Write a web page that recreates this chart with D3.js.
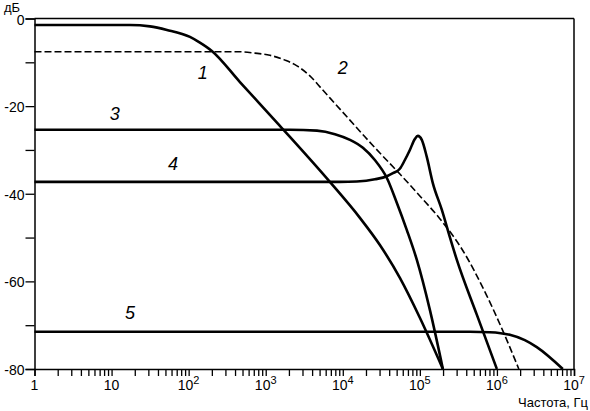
<!DOCTYPE html>
<html><head><meta charset="utf-8">
<script src="https://cdn.jsdelivr.net/npm/d3@7"></script>
<style>body{margin:0;background:#fff}svg{display:block}text{font-family:"Liberation Sans",Arial,sans-serif;fill:#000}</style>
</head><body><svg id="c" width="590" height="411"></svg>
<script>
// Data
const freq1 = [1, 17.3, 31.5, 52.3, 104, 140, 200, 463, 1528, 6800, 16680, 30300, 55080, 100000, 199000];
const db1   = [-1.5, -1.5, -1.8, -2.6, -4.2, -5.5, -7.4, -14.5, -24.5, -37.3, -45.5, -51.7, -59.2, -68.3, -80];
const freq2 = [1, 463, 724, 1132, 1775, 2541, 3741, 5354, 7900, 12370, 19360, 30300, 55080, 100000, 181600, 350600, 739800, 1194000, 1923000];
const db2   = [-7.6, -7.6, -7.9, -8.4, -9.5, -10.8, -13.1, -16.1, -19.4, -23.2, -27.0, -30.7, -35.5, -40.5, -45.7, -52.6, -63.3, -71.3, -80];
const freq3 = [1, 2060, 4620, 7910, 12400, 18240, 26070, 37330, 50350, 67800, 91400, 134900, 199000];
const db3   = [-25.4, -25.4, -25.6, -26.4, -27.7, -29.5, -32.3, -36.4, -42.1, -48.3, -55.1, -66.5, -80];
const freq4 = [1, 9170, 15200, 26100, 37400, 44700, 55000, 63900, 74200, 86100, 94200, 106000, 123000, 147000, 193000, 245000, 302000, 548000, 998000];
const db4   = [-37.3, -37.3, -37.2, -36.7, -36.0, -35.3, -34.3, -32.3, -30.0, -27.5, -26.8, -27.7, -31.6, -37.5, -43.7, -49.9, -55.1, -67.6, -80];
const freq5 = [1, 445000, 809000, 1470000, 2300000, 3290000, 7160000];
const db5   = [-71.5, -71.5, -71.6, -72.2, -73.4, -75.0, -80];
const curveNames = ["1", "2", "3", "4", "5"];
const labelFreq = [153, 10000, 11, 62.5, 17.3];
const labelDb   = [-12.4, -11.1, -21.8, -33.2, -67.2];
const yTicks = [0, -20, -40, -60, -80];
const xTickExp = [0, 1, 2, 3, 4, 5, 6, 7];
const xTitle = "Частота, Гц";
const yTitle = "дБ";

const svg = d3.select("#c");
const x = d3.scaleLog().domain([1, 1e7]).range([34.5, 574]);
const y = d3.scaleLinear().domain([-80, 0]).range([369, 18.5]);

// frame: top and right
svg.append("line").attr("x1", x(1)).attr("x2", x(1e7)).attr("y1", y(0)).attr("y2", y(0)).attr("stroke", "#000").attr("stroke-width", 1.5);
svg.append("line").attr("x1", x(1e7)).attr("x2", x(1e7)).attr("y1", y(0)).attr("y2", y(-80)).attr("stroke", "#000").attr("stroke-width", 1.5);

// y axis
const yAxis = svg.append("g").attr("transform", `translate(${x(1)},0)`)
  .call(d3.axisLeft(y).tickValues(d3.range(-80, 1, 10)).tickSize(9).tickFormat(d => yTicks.includes(d) ? String(d) : ""));
yAxis.select(".domain").attr("stroke-width", 1.5);
yAxis.selectAll(".tick line").attr("stroke-width", 1.3);
yAxis.selectAll(".tick text").attr("font-size", 14).attr("x", -10).attr("dy", "0.4em").style("font-family", '"Liberation Sans",Arial,sans-serif');

// x axis
const minor = [];
for (let e = 0; e < 7; e++) for (let m = 1; m < 10; m++) minor.push(m * Math.pow(10, e));
minor.push(1e7);
const xAxis = svg.append("g").attr("transform", `translate(0,${y(-80)})`)
  .call(d3.axisBottom(x).tickValues(minor).tickSize(7).tickFormat(""));
xAxis.select(".domain").attr("stroke-width", 1.5);
xAxis.selectAll(".tick line").attr("stroke-width", 1.3);

const xl = svg.append("g");
xTickExp.forEach(e => {
  const t = xl.append("text").attr("x", x(Math.pow(10, e))).attr("y", 390).attr("font-size", 14).attr("text-anchor", "middle");
  if (e === 0) t.text("1");
  else if (e === 1) t.text("10");
  else { t.text("10"); t.append("tspan").attr("dy", -6).attr("font-size", 11).text(e); }
});
svg.append("text").attr("x", 588).attr("y", 407).attr("font-size", 13).attr("text-anchor", "end").text(xTitle);
svg.append("text").attr("x", 4).attr("y", 12).attr("font-size", 13).text(yTitle);

// curves
const line = d3.line().x(d => x(d[0])).y(d => y(d[1])).curve(d3.curveMonotoneX);
const series = [[freq1, db1], [freq2, db2], [freq3, db3], [freq4, db4], [freq5, db5]];
series.forEach((s, i) => {
  const pts = s[0].map((f, j) => [f, s[1][j]]);
  svg.append("path").attr("d", line(pts)).attr("fill", "none").attr("stroke", "#000")
    .attr("stroke-width", i === 1 ? 1.6 : 2.6)
    .attr("stroke-dasharray", i === 1 ? "7,3" : null)
    .attr("stroke-linejoin", "round");
});

// curve labels
curveNames.forEach((n, i) => {
  svg.append("text").attr("x", x(labelFreq[i])).attr("y", y(labelDb[i])).attr("dy", "0.36em")
    .attr("text-anchor", "middle").attr("font-size", 18).attr("font-style", "italic").text(n);
});
</script></body></html>
